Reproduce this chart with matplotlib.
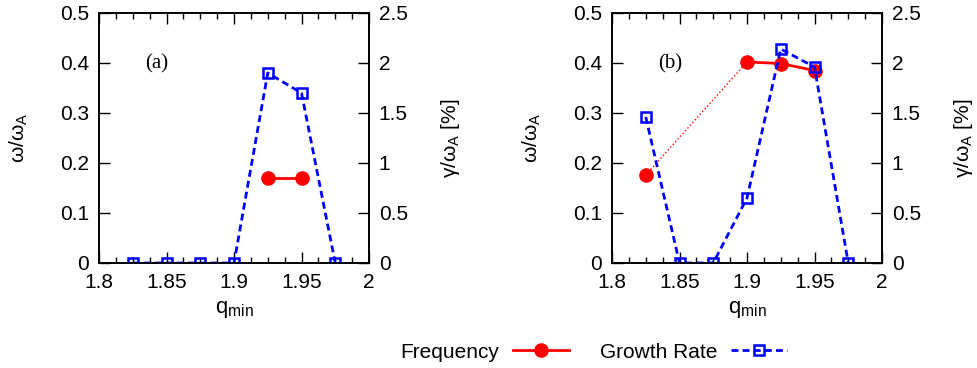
import matplotlib
matplotlib.use("Agg")
import matplotlib.pyplot as plt
from matplotlib.ticker import MultipleLocator, AutoMinorLocator
from matplotlib.lines import Line2D

plt.rcParams["font.family"] = ["Liberation Sans", "DejaVu Sans"]
plt.rcParams["mathtext.fontset"] = "custom"
plt.rcParams["mathtext.rm"] = "Liberation Sans"
plt.rcParams["mathtext.it"] = "Liberation Sans:italic"

# q_min values
q = [1.825, 1.85, 1.875, 1.9, 1.925, 1.95, 1.975]

# panel (a)
growth_a = [0, 0, 0, 0, 1.90, 1.70, 0]
freq_q_a = [1.925, 1.95]
freq_a = [0.171, 0.171]

# panel (b)
growth_b = [1.46, 0, 0, 0.65, 2.14, 1.96, 0]
freq_q_b = [1.9, 1.925, 1.95]
freq_b = [0.402, 0.399, 0.385]
freq_q_b_gap = [1.825, 1.9]
freq_b_gap = [0.176, 0.402]

panels = [
    ("(a)", growth_a, freq_q_a, freq_a, None, None),
    ("(b)", growth_b, freq_q_b, freq_b, freq_q_b_gap, freq_b_gap),
]

red = "#ff0000"
blue = "#0000ff"
fs = 15

fig = plt.figure(figsize=(9.78, 3.68), dpi=100)
lefts = [99 / 978, 612 / 978]
w = 270 / 978
b = 105 / 368
h = 250 / 368

for left, (tag, growth, fq, fv, gq, gv) in zip(lefts, panels):
    ax = fig.add_axes([left, b, w, h])
    ax2 = ax.twinx()

    # dotted link + isolated point (panel b only)
    if gq is not None:
        ax.plot(gq, gv, ":", color=red, lw=1.0)
        ax.plot(gq[0], gv[0], "o", color=red, ms=9.5)
    ax.plot(fq, fv, "-", color=red, lw=2.0, marker="o", ms=9.5)
    ax2.plot(q, growth, "--", color=blue, lw=2.0, marker="s", ms=7,
             mfc="none", mec=blue, mew=1.8, dashes=(2.5, 1.5))

    ax.set_xlim(1.8, 2.0)
    ax.set_ylim(0, 0.5)
    ax2.set_ylim(0, 2.5)
    ax.xaxis.set_major_locator(MultipleLocator(0.05))
    ax.xaxis.set_minor_locator(AutoMinorLocator(4))
    ax.yaxis.set_major_locator(MultipleLocator(0.1))
    ax2.yaxis.set_major_locator(MultipleLocator(0.5))
    ax.xaxis.set_major_formatter(plt.FuncFormatter(lambda v, p: f"{v:g}"))
    ax.yaxis.set_major_formatter(plt.FuncFormatter(lambda v, p: f"{v:g}"))
    ax2.yaxis.set_major_formatter(plt.FuncFormatter(lambda v, p: f"{v:g}"))

    ax.tick_params(axis="both", which="major", direction="in", length=8,
                   width=1, labelsize=fs, top=True, pad=7)
    ax.tick_params(axis="x", which="minor", direction="in", length=4,
                   width=1, top=True)
    ax2.tick_params(axis="y", which="major", direction="in", length=8,
                    width=1, labelsize=fs, pad=7)
    for a in (ax, ax2):
        for s in a.spines.values():
            s.set_linewidth(1.2)

    ax.set_xlabel(r"$\mathrm{q_{min}}$", fontsize=fs + 1, labelpad=5)
    ax.set_ylabel(r"$\mathrm{\omega/\omega_A}$", fontsize=fs)
    ax2.set_ylabel(r"$\mathrm{\gamma/\omega_A}$ [%]", fontsize=fs)
    ax.yaxis.set_label_coords(-0.256, 0.5)
    ax2.yaxis.set_label_coords(1.26, 0.5)

    ax.text(1.834, 0.398, tag, fontsize=fs, family="Liberation Serif",
            va="center", ha="left")

handles = [
    Line2D([], [], color=red, lw=2.0, marker="o", ms=9.5),
    Line2D([], [], color=blue, lw=2.0, ls="--", marker="s", ms=7,
           mfc="none", mec=blue, mew=1.8, dashes=(2.5, 1.5)),
]
fig.legend(handles, ["Frequency", "Growth Rate"], loc="center",
           bbox_to_anchor=(0.607, 0.043), ncol=2, frameon=False,
           markerfirst=False, fontsize=fs, handlelength=2.7,
           columnspacing=1.5, handletextpad=0.65)

fig.savefig("out.png", dpi=100)
